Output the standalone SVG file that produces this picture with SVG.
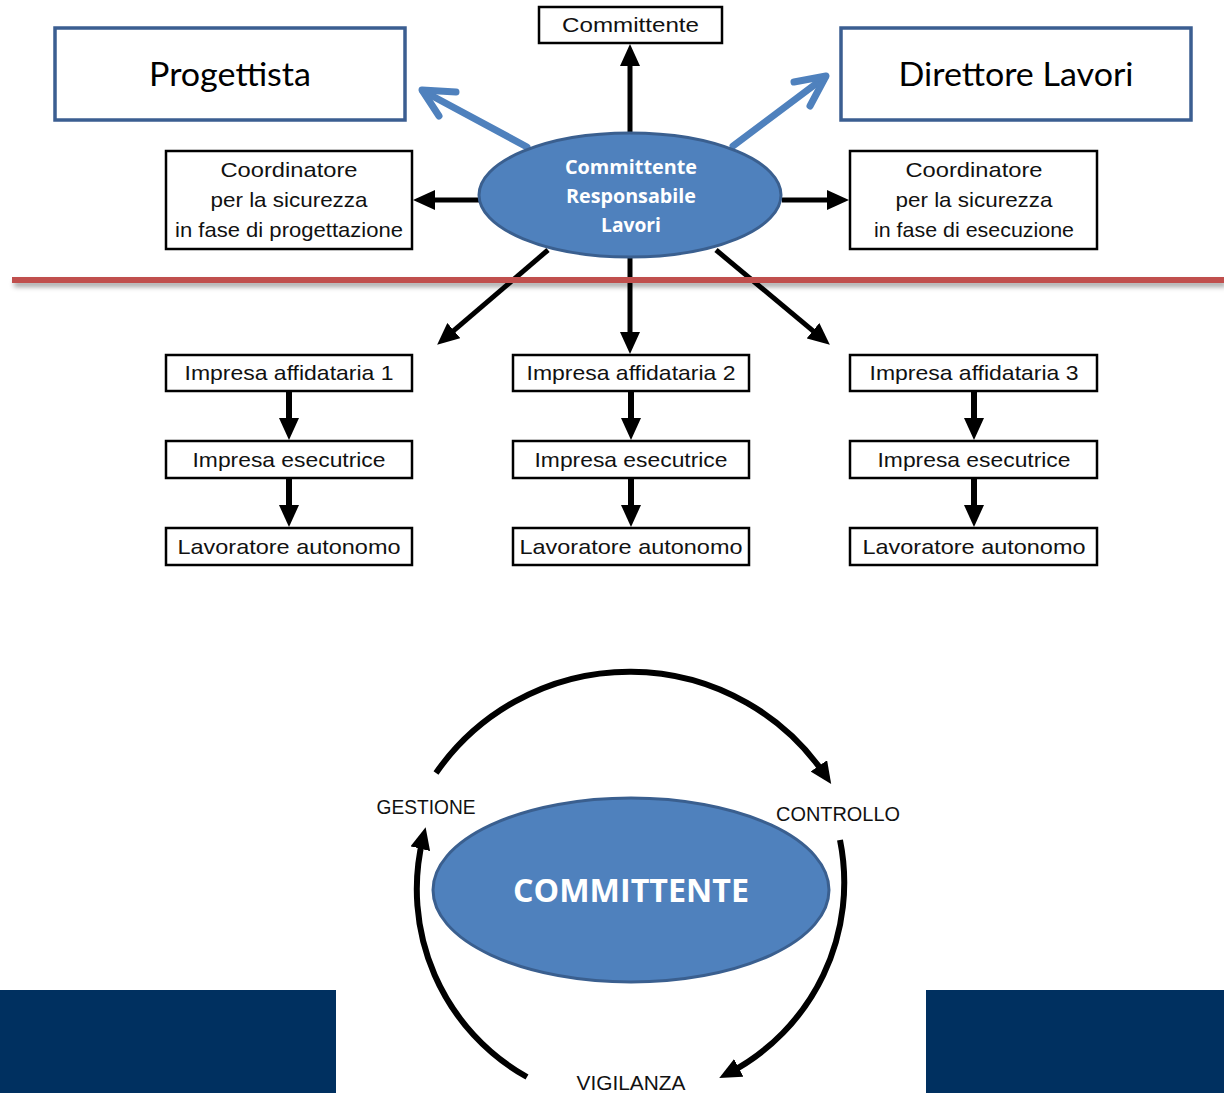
<svg xmlns="http://www.w3.org/2000/svg" width="1224" height="1093" viewBox="0 0 1224 1093">
<style>
.box{fill:#fff;stroke:#000;stroke-width:2.5}
.bbox{fill:#fff;stroke:#3b5e91;stroke-width:3.5}
.ell{fill:#4f81bd;stroke:#3a5f8f;stroke-width:3}
.t{font-family:"Liberation Sans",Arial,sans-serif;font-size:21px;fill:#111;text-anchor:middle}
.big{font-family:Lato,"Liberation Sans",sans-serif;font-size:32px;fill:#000;text-anchor:middle}
.w{font-family:"Open Sans","Liberation Sans",sans-serif;font-weight:bold;fill:#fff;text-anchor:middle}
.c{font-family:"Liberation Sans",Arial,sans-serif;font-size:21px;fill:#111;text-anchor:middle}
.a{stroke:#000;stroke-width:5;fill:none;marker-end:url(#ah)}
.a6{stroke:#000;stroke-width:6;fill:none;marker-end:url(#ah)}
.blue{stroke:#4f81bd;stroke-width:7;fill:none;stroke-linecap:round;stroke-linejoin:round}
</style>
<defs>
<marker id="ah" markerUnits="userSpaceOnUse" markerWidth="22" markerHeight="20" viewBox="0 0 22 20" refX="11" refY="10" orient="auto">
<path d="M0,0 L22,10 L0,20 z" fill="#000"/>
</marker>
<filter id="sh" filterUnits="userSpaceOnUse" x="0" y="260" width="1224" height="40">
<feDropShadow dx="2" dy="4" stdDeviation="2.5" flood-color="#000" flood-opacity="0.35"/>
</filter>
</defs>
<rect width="1224" height="1093" fill="#fff"/>

<g id="connectors">
<line class="a" x1="630" y1="134" x2="630" y2="55"/>
<line class="a" x1="480" y1="200" x2="424" y2="200"/>
<line class="a" x1="782" y1="200" x2="838" y2="200"/>
<line class="a" x1="548" y1="250" x2="445.5" y2="337.7"/>
<line class="a" x1="630" y1="257" x2="630" y2="343"/>
<line class="a" x1="716" y1="250" x2="821.4" y2="337.8"/>
<line class="a6" x1="289" y1="391" x2="289" y2="429"/>
<line class="a6" x1="289" y1="478" x2="289" y2="516"/>
<line class="a6" x1="631" y1="391" x2="631" y2="429"/>
<line class="a6" x1="631" y1="478" x2="631" y2="516"/>
<line class="a6" x1="974" y1="391" x2="974" y2="429"/>
<line class="a6" x1="974" y1="478" x2="974" y2="516"/>
<g id="blue-left"><path class="blue" d="M527,147 L423,91"/><path class="blue" d="M456,92 L422,90 L439,116"/></g>
<g id="blue-right"><path class="blue" d="M733,146 L825,77"/><path class="blue" d="M794,82 L826,76 L810,106"/></g>
<path class="a6" d="M436,773 A236,236 0 0 1 825,775"/>
<path class="a6" d="M840,840 A215,215 0 0 1 729,1073"/>
<path class="a6" d="M527,1077 A215,215 0 0 1 423,838"/>
</g>

<rect id="separator" x="12" y="277" width="1212" height="6" fill="#c0504d" filter="url(#sh)"/>

<g id="n-committente"><rect class="box" x="539" y="7" width="183" height="36"/><text class="t" x="630.5" y="32" textLength="137" lengthAdjust="spacingAndGlyphs">Committente</text></g>
<g id="n-progettista"><rect class="bbox" x="55" y="28" width="350" height="92"/><text class="big" x="230" y="86" textLength="162" lengthAdjust="spacingAndGlyphs">Progettista</text></g>
<g id="n-direttore"><rect class="bbox" x="841" y="28" width="350" height="92"/><text class="big" x="1016" y="86" textLength="235" lengthAdjust="spacingAndGlyphs">Direttore Lavori</text></g>

<g id="n-crl"><ellipse class="ell" cx="630" cy="195" rx="151" ry="62"/>
<text class="w" x="631" y="174" font-size="19" textLength="132" lengthAdjust="spacingAndGlyphs">Committente</text>
<text class="w" x="631" y="203" font-size="19" textLength="130" lengthAdjust="spacingAndGlyphs">Responsabile</text>
<text class="w" x="631" y="232" font-size="19" textLength="60" lengthAdjust="spacingAndGlyphs">Lavori</text></g>

<g id="n-csp"><rect class="box" x="166" y="151" width="246" height="98"/>
<text class="t" x="289" y="177" textLength="137" lengthAdjust="spacingAndGlyphs">Coordinatore</text>
<text class="t" x="289" y="207" textLength="157" lengthAdjust="spacingAndGlyphs">per la sicurezza</text>
<text class="t" x="289" y="237" textLength="228" lengthAdjust="spacingAndGlyphs">in fase di progettazione</text></g>
<g id="n-cse"><rect class="box" x="850" y="151" width="247" height="98"/>
<text class="t" x="974" y="177" textLength="137" lengthAdjust="spacingAndGlyphs">Coordinatore</text>
<text class="t" x="974" y="207" textLength="157" lengthAdjust="spacingAndGlyphs">per la sicurezza</text>
<text class="t" x="974" y="237" textLength="200" lengthAdjust="spacingAndGlyphs">in fase di esecuzione</text></g>

<g id="n-ia1"><rect class="box" x="166" y="355" width="246" height="36"/><text class="t" x="289" y="380" textLength="209" lengthAdjust="spacingAndGlyphs">Impresa affidataria 1</text></g>
<g id="n-ie1"><rect class="box" x="166" y="441" width="246" height="37"/><text class="t" x="289" y="467" textLength="193" lengthAdjust="spacingAndGlyphs">Impresa esecutrice</text></g>
<g id="n-la1"><rect class="box" x="166" y="528" width="246" height="37"/><text class="t" x="289" y="554" textLength="223" lengthAdjust="spacingAndGlyphs">Lavoratore autonomo</text></g>

<g id="n-ia2"><rect class="box" x="513" y="355" width="236" height="36"/><text class="t" x="631" y="380" textLength="209" lengthAdjust="spacingAndGlyphs">Impresa affidataria 2</text></g>
<g id="n-ie2"><rect class="box" x="513" y="441" width="236" height="37"/><text class="t" x="631" y="467" textLength="193" lengthAdjust="spacingAndGlyphs">Impresa esecutrice</text></g>
<g id="n-la2"><rect class="box" x="513" y="528" width="236" height="37"/><text class="t" x="631" y="554" textLength="223" lengthAdjust="spacingAndGlyphs">Lavoratore autonomo</text></g>

<g id="n-ia3"><rect class="box" x="850" y="355" width="247" height="36"/><text class="t" x="974" y="380" textLength="209" lengthAdjust="spacingAndGlyphs">Impresa affidataria 3</text></g>
<g id="n-ie3"><rect class="box" x="850" y="441" width="247" height="37"/><text class="t" x="974" y="467" textLength="193" lengthAdjust="spacingAndGlyphs">Impresa esecutrice</text></g>
<g id="n-la3"><rect class="box" x="850" y="528" width="247" height="37"/><text class="t" x="974" y="554" textLength="223" lengthAdjust="spacingAndGlyphs">Lavoratore autonomo</text></g>

<g id="n-committente-big"><ellipse class="ell" cx="631" cy="890" rx="198" ry="92"/>
<text class="w" x="631" y="902" font-size="33" textLength="236" lengthAdjust="spacingAndGlyphs">COMMITTENTE</text></g>

<text class="c" x="426" y="814" textLength="99" lengthAdjust="spacingAndGlyphs">GESTIONE</text>
<text class="c" x="838" y="821" textLength="124" lengthAdjust="spacingAndGlyphs">CONTROLLO</text>
<text class="c" x="631" y="1090" textLength="109" lengthAdjust="spacingAndGlyphs">VIGILANZA</text>

<rect x="0" y="990" width="336" height="103" fill="#003060"/>
<rect x="926" y="990" width="298" height="103" fill="#003060"/>
</svg>
